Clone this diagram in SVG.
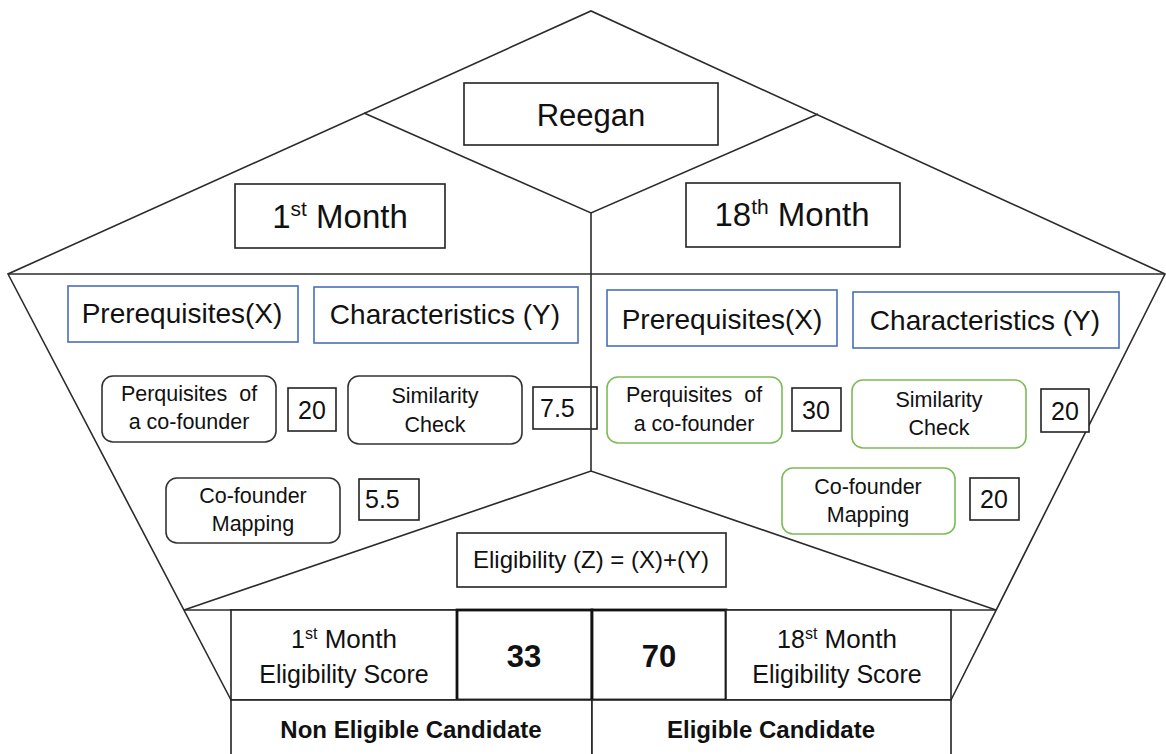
<svg xmlns="http://www.w3.org/2000/svg" width="1166" height="754" viewBox="0 0 1166 754">
  <style>
    text { font-family: "Liberation Sans", Arial, sans-serif; fill: #111; text-anchor: middle; white-space: pre; }
    .edge { fill: none; stroke: #2b2b2b; stroke-width: 1.6; }
    .box { fill: #fff; stroke: #222; stroke-width: 1.6; }
    .blue { fill: #fff; stroke: #4a6fb8; stroke-width: 1.6; }
    .round { fill: #fff; stroke: #333; stroke-width: 1.6; }
    .green { fill: #fff; stroke: #7dbb57; stroke-width: 1.6; }
    .thick { fill: #fff; stroke: #111; stroke-width: 2.8; }
    .big { font-size: 31px; }
    .month { font-size: 33px; }
    .mid { font-size: 28px; }
    .small { font-size: 21.5px; }
    .num { font-size: 25px; }
    .cell { font-size: 25px; }
    .bold { font-weight: bold; }
  </style>

  <!-- pentagon frame and its dividing lines -->
  <g id="connectors">
    <polyline class="edge" points="231,700 8,274 591,11 1165,274 951,700"/>
    <line class="edge" x1="8" y1="274" x2="1165" y2="274"/>
    <polyline class="edge" points="364,113 591,213 818,114"/>
    <polyline class="edge" points="184,610 591,471 996,610"/>
    <line class="edge" x1="184" y1="610" x2="996" y2="610"/>
  </g>

  <g id="reegan">
    <rect class="box" x="464" y="83" width="254" height="62"/>
    <text class="big" x="591" y="126">Reegan</text>
  </g>

  <g id="month-1">
    <rect class="box" x="235" y="184" width="210" height="64"/>
    <text class="month" x="340" y="228">1<tspan font-size="21" dy="-12">st</tspan><tspan dy="12"> Month</tspan></text>
  </g>

  <g id="month-18">
    <rect class="box" x="686" y="183" width="214" height="64"/>
    <text class="month" x="792" y="226">18<tspan font-size="21" dy="-12">th</tspan><tspan dy="12"> Month</tspan></text>
  </g>

  <!-- 1st month criteria -->
  <g id="m1-prerequisites">
    <rect class="blue" x="68" y="286" width="230" height="56"/>
    <text class="mid" x="182" y="323">Prerequisites(X)</text>
  </g>
  <g id="m1-characteristics">
    <rect class="blue" x="314" y="287" width="264" height="56"/>
    <text class="mid" x="445" y="324">Characteristics (Y)</text>
  </g>
  <g id="m1-perquisites">
    <rect class="round" x="102" y="376" width="174" height="66" rx="11"/>
    <text class="small" x="189" y="401">Perquisites  of</text>
    <text class="small" x="189" y="429">a co-founder</text>
  </g>
  <g id="m1-perquisites-score">
    <rect class="box" x="288" y="388" width="48" height="43"/>
    <text class="num" x="312" y="419">20</text>
  </g>
  <g id="m1-similarity">
    <rect class="round" x="348" y="376" width="174" height="68" rx="11"/>
    <text class="small" x="435" y="403">Similarity</text>
    <text class="small" x="435" y="432">Check</text>
  </g>
  <g id="m1-similarity-score">
    <rect class="box" x="533" y="387" width="64" height="42" style="fill:none"/>
    <text class="num" x="540" y="417" style="text-anchor:start">7.5</text>
  </g>
  <g id="m1-mapping">
    <rect class="round" x="166" y="478" width="174" height="65" rx="11"/>
    <text class="small" x="253" y="503">Co-founder</text>
    <text class="small" x="253" y="531">Mapping</text>
  </g>
  <g id="m1-mapping-score">
    <rect class="box" x="359" y="479" width="60" height="41"/>
    <text class="num" x="365" y="508" style="text-anchor:start">5.5</text>
  </g>

  <!-- centre divider, drawn over the open score box it crosses -->
  <g id="centre-divider">
    <line class="edge" x1="591" y1="213" x2="591" y2="471"/>
  </g>

  <!-- 18th month criteria -->
  <g id="m18-prerequisites">
    <rect class="blue" x="607" y="290" width="230" height="56"/>
    <text class="mid" x="722" y="329">Prerequisites(X)</text>
  </g>
  <g id="m18-characteristics">
    <rect class="blue" x="853" y="292" width="266" height="56"/>
    <text class="mid" x="985" y="330">Characteristics (Y)</text>
  </g>
  <g id="m18-perquisites">
    <rect class="green" x="607" y="377" width="175" height="66" rx="11"/>
    <text class="small" x="694" y="402">Perquisites  of</text>
    <text class="small" x="694" y="431">a co-founder</text>
  </g>
  <g id="m18-perquisites-score">
    <rect class="box" x="792" y="388" width="49" height="43"/>
    <text class="num" x="816" y="419">30</text>
  </g>
  <g id="m18-similarity">
    <rect class="green" x="852" y="380" width="174" height="68" rx="11"/>
    <text class="small" x="939" y="407">Similarity</text>
    <text class="small" x="939" y="435">Check</text>
  </g>
  <g id="m18-similarity-score">
    <rect class="box" x="1041" y="389" width="48" height="43"/>
    <text class="num" x="1065" y="420">20</text>
  </g>
  <g id="m18-mapping">
    <rect class="green" x="782" y="468" width="173" height="66" rx="11"/>
    <text class="small" x="868" y="494">Co-founder</text>
    <text class="small" x="868" y="522">Mapping</text>
  </g>
  <g id="m18-mapping-score">
    <rect class="box" x="970" y="478" width="49" height="42"/>
    <text class="num" x="994" y="508">20</text>
  </g>

  <g id="eligibility-formula">
    <rect class="box" x="457" y="533" width="269" height="54"/>
    <text style="font-size:24px" x="591" y="568">Eligibility (Z) = (X)+(Y)</text>
  </g>

  <!-- score table -->
  <g id="score-m1-label">
    <rect class="box" x="231" y="610" width="226" height="90"/>
    <text class="cell" x="344" y="648">1<tspan font-size="16" dy="-9">st</tspan><tspan dy="9" font-size="26"> Month</tspan></text>
    <text class="cell" x="344" y="683">Eligibility Score</text>
  </g>
  <g id="score-m1-value">
    <rect class="thick" x="457" y="610" width="135" height="90"/>
    <text class="bold" style="font-size:31px" x="524" y="667">33</text>
  </g>
  <g id="score-m18-value">
    <rect class="thick" x="592" y="610" width="134" height="90"/>
    <text class="bold" style="font-size:31px" x="659" y="667">70</text>
  </g>
  <g id="score-m18-label">
    <rect class="box" x="726" y="610" width="225" height="90"/>
    <text class="cell" x="837" y="648">18<tspan font-size="16" dy="-9">st</tspan><tspan dy="9" font-size="26"> Month</tspan></text>
    <text class="cell" x="837" y="683">Eligibility Score</text>
  </g>
  <g id="result-m1">
    <rect class="box" x="231" y="700" width="361" height="70"/>
    <text class="bold" style="font-size:24px" x="411" y="738">Non Eligible Candidate</text>
  </g>
  <g id="result-m18">
    <rect class="box" x="592" y="700" width="359" height="70"/>
    <text class="bold" style="font-size:24px" x="771" y="738">Eligible Candidate</text>
  </g>
</svg>
